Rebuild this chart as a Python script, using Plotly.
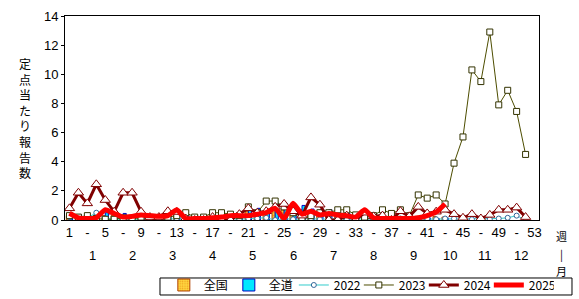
import plotly.graph_objects as go

weeks = list(range(1, 54))
tick_weeks = list(range(1, 54, 2))
tick_text = [str(w) if (w - 1) % 4 == 0 else "-" for w in tick_weeks]
month_labels = ["1", "2", "3", "4", "5", "6", "7", "8", "9", "10", "11", "12"]
month_pos = [3.6, 8.1, 12.5, 17.0, 21.5, 26.0, 30.5, 35.0, 39.5, 43.5, 47.5, 51.5]

zenkoku = [0.3, 0.25, 0.25, 0.3, 0.3, 0.3, 0.3, 0.25, 0.25, 0.25, 0.25, 0.3, 0.3, 0.3, 0.3,
           0.3, 0.35, 0.35, 0.4, 0.45, 0.6, 0.55, 0.6, 0.65, 0.7, 0.7, 0.7, 0.6, 0.5, 0.45,
           0.35, 0.3, 0.3, 0.3, 0.3, 0.25, 0.25, 0.25, 0.25, 0.25, 0.25, 0.25, 0.2]
zendo = [0.2, 0.35, 0.35, 0.3, 0.5, 0.3, 0.45, 0.2, 0.15, 0.2, 0.2, 0.25, 0.2, 0.35, 0.3,
         0.2, 0.35, 0.3, 0.4, 0.55, 0.75, 0.8, 0.6, 1.15, 1.15, 0.8, 1.0, 0.75, 0.7, 0.7,
         0.5, 0.45, 0.3, 0.3, 0.2, 0.2, 0.15, 0.2, 0.15, 0.2, 0.15, 0.1, 0.15]
y2022 = [0.2, 0.1, 0.15, 0.5, 0.1, 0.1, 0.05, 0.0, 0.1, 0.05, 0.1, 0.05, 0.1, 0.05, 0.1,
         0.1, 0.1, 0.05, 0.1, 0.05, 0.1, 0.1, 0.15, 0.0, 0.1, 0.05, 0.1, 0.1, 0.05, 0.1,
         0.1, 0.05, 0.1, 0.05, 0.1, 0.1, 0.05, 0.1, 0.05, 0.05, 0.1, 0.05, 0.1, 0.1, 0.05,
         0.05, 0.05, 0.05, 0.1, 0.15, 0.3, 0.0]
y2023 = [0.3, 0.2, 0.3, 0.1, 0.05, 0.05, 0.15, 0.05, 0.2, 0.1, 0.05, 0.2, 0.3, 0.5, 0.2,
         0.2, 0.5, 0.5, 0.4, 0.3, 0.9, 0.5, 1.3, 1.3, 0.9, 0.5, 0.05, 0.3, 0.5, 0.5,
         0.7, 0.7, 0.35, 0.2, 0.3, 0.7, 0.45, 0.7, 0.3, 1.72, 1.5, 1.72, 1.1, 3.9, 5.7,
         10.3, 9.5, 12.9, 7.9, 8.9, 7.45, 4.5]
y2024 = [0.8, 1.87, 1.14, 2.45, 1.37, 0.57, 1.87, 1.87, 0.57, 0.2, 0.2, 0.6, 0.55, 0.1, 0.0,
         0.0, 0.2, 0.0, 0.0, 0.4, 0.8, 0.5, 0.6, 0.9, 1.1, 0.6, 0.3, 1.55, 1.05, 0.0,
         0.0, 0.3, 0.0, 0.5, 0.25, 0.3, 0.0, 0.6, 0.25, 0.9, 0.45, 0.57, 0.7, 0.4, 0.15,
         0.4, 0.1, 0.35, 0.7, 0.7, 0.85, 0.2]
y2025 = [0.46, 0.15, 0.1, 0.15, 0.7, 0.45, 0.2, 0.25, 0.35, 0.3, 0.25, 0.3, 0.7, 0.1, 0.1,
         0.1, 0.15, 0.2, 0.3, 0.3, 0.3, 0.4, 0.5, 0.8, 0.1, 1.15, 0.4, 0.6, 0.35, 0.45,
         0.35, 0.3, 0.2, 0.7, 0.15, 0.1, 0.1, 0.1, 0.1, 0.15, 0.3, 0.55, 1.1]

fig = go.Figure()
fig.add_trace(go.Bar(
    x=weeks[:len(zenkoku)], y=zenkoku, name="全国",
    marker=dict(color="#FFD640", line=dict(color="#B04000", width=1),
                pattern=dict(shape=".", fgcolor="#E07000", bgcolor="#FFD640", size=3, solidity=0.3)),
))
fig.add_trace(go.Bar(
    x=weeks[:len(zendo)], y=zendo, name="全道",
    marker=dict(color="#00E8FF", line=dict(color="#0000C0", width=1)),
))
fig.add_trace(go.Scatter(
    x=weeks[:len(y2022)], y=y2022, name="2022", mode="lines+markers",
    line=dict(color="#33CCCC", width=1),
    marker=dict(symbol="circle", size=5, color="white", line=dict(color="#336699", width=1)),
))
fig.add_trace(go.Scatter(
    x=weeks[:len(y2023)], y=y2023, name="2023", mode="lines+markers",
    line=dict(color="#4D4D00", width=1),
    marker=dict(symbol="square", size=6, color="white", line=dict(color="#333300", width=1)),
))
fig.add_trace(go.Scatter(
    x=weeks[:len(y2024)], y=y2024, name="2024", mode="lines+markers",
    line=dict(color="#800000", width=3),
    marker=dict(symbol="triangle-up", size=9, color="white", line=dict(color="#800000", width=1)),
))
fig.add_trace(go.Scatter(
    x=weeks[:len(y2025)], y=y2025, name="2025", mode="lines",
    line=dict(color="#FF0000", width=5, shape="spline", smoothing=0.5),
))

annotations = []
for lab, pos in zip(month_labels, month_pos):
    annotations.append(dict(x=pos, y=-0.172, xref="x", yref="paper", text=lab, showarrow=False,
                            font=dict(size=13, color="black", family="Liberation Sans"),
                            xanchor="center", yanchor="middle"))
for txt, yy in [("週", -0.08), ("|", -0.165), ("月", -0.25)]:
    annotations.append(dict(x=1.0485, y=yy, xref="paper", yref="paper", text=txt, showarrow=False,
                            font=dict(size=11, color="black", family="Noto Sans CJK JP"),
                            xanchor="center", yanchor="middle"))
annotations.append(dict(x=-0.084, y=0.50, xref="paper", yref="paper",
                        text="<br>".join(list("定点当たり報告数")), showarrow=False,
                        font=dict(size=12, color="black", family="Noto Sans CJK JP"),
                        xanchor="center", yanchor="middle"))

# legend frame (drawn as a shape so its height matches the reference)
shapes = [dict(type="rect", xref="paper", yref="paper",
               x0=0.2004, x1=1.0696, y0=-0.3676, y1=-0.2843,
               line=dict(color="black", width=1), fillcolor="white", layer="below")]

fig.update_layout(
    width=579, height=299,
    margin=dict(l=65, r=40, t=16, b=79, autoexpand=False),
    paper_bgcolor="white", plot_bgcolor="white",
    barmode="group", bargap=0.3, bargroupgap=0,
    showlegend=True,
    legend=dict(orientation="h", x=0.2085, y=-0.2475, xanchor="left", yanchor="top",
                borderwidth=0, bgcolor="rgba(0,0,0,0)",
                font=dict(size=12, color="black", family="Noto Sans CJK JP"),
                entrywidth=20, entrywidthmode="pixels", itemwidth=30,
                tracegroupgap=0, traceorder="normal"),
    shapes=shapes,
    annotations=annotations,
    xaxis=dict(range=[0.5, 53.5], tickmode="array", tickvals=tick_weeks, ticktext=tick_text,
               showline=True, linecolor="black", linewidth=1, mirror=True, showgrid=False,
               zeroline=False, ticks="", tickfont=dict(size=13, color="black", family="Liberation Sans")),
    yaxis=dict(range=[0, 14], dtick=2, showline=True, linecolor="black", linewidth=1, mirror=True,
               showgrid=False, zeroline=False, ticks="outside", ticklen=3, tickcolor="black",
               tickfont=dict(size=13, color="black", family="Liberation Sans")),
)

fig.write_html("out.html")
